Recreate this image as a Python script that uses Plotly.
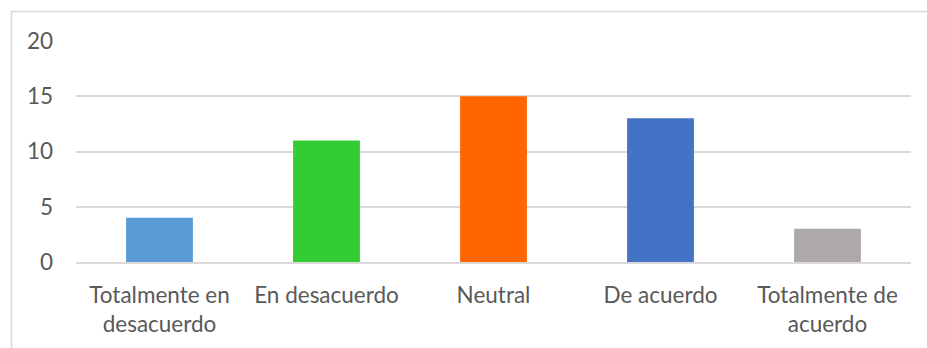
import plotly.graph_objects as go

categories = ["Totalmente en<br>desacuerdo", "En desacuerdo", "Neutral", "De acuerdo", "Totalmente de<br>acuerdo"]
values = [4, 11, 15, 13, 3]
colors = ["#5B9BD5", "#33CC33", "#FF6600", "#4472C4", "#ADA9A8"]
y_ticks = [0, 5, 10, 15, 20]

W, H = 927, 348
L, R, T, B = 76, 16, 41, 85.5
pw, ph = W - L - R, H - T - B

fig = go.Figure(go.Bar(x=categories, y=values, marker_color=colors, marker_line_width=0, width=0.4))

fig.update_layout(
    width=W, height=H,
    margin=dict(l=L, r=R, t=T, b=B, pad=0),
    paper_bgcolor="white", plot_bgcolor="white",
    font=dict(family="Lato", size=22.5, color="#595959"),
    showlegend=False,
    bargap=0.6,
)
fig.update_yaxes(range=[0, 20], tickvals=y_ticks, showgrid=True, gridcolor="#D9D9D9", gridwidth=1.5,
                 zeroline=False, showline=False, ticks="", ticklabelstandoff=22, fixedrange=True)
fig.update_xaxes(showline=True, linecolor="#D9D9D9", linewidth=1.5, ticks="", ticklabelstandoff=12,
                 fixedrange=True)

fig.add_shape(type="rect", xref="paper", yref="paper",
              x0=(11.5 - L) / pw, x1=(W + 5 - L) / pw,
              y0=-(H + 5 - (T + ph)) / ph, y1=(T + ph - 11.5) / ph,
              line=dict(color="#D9D9D9", width=1.5), fillcolor="rgba(0,0,0,0)", layer="below")

fig.write_html("out.html")
